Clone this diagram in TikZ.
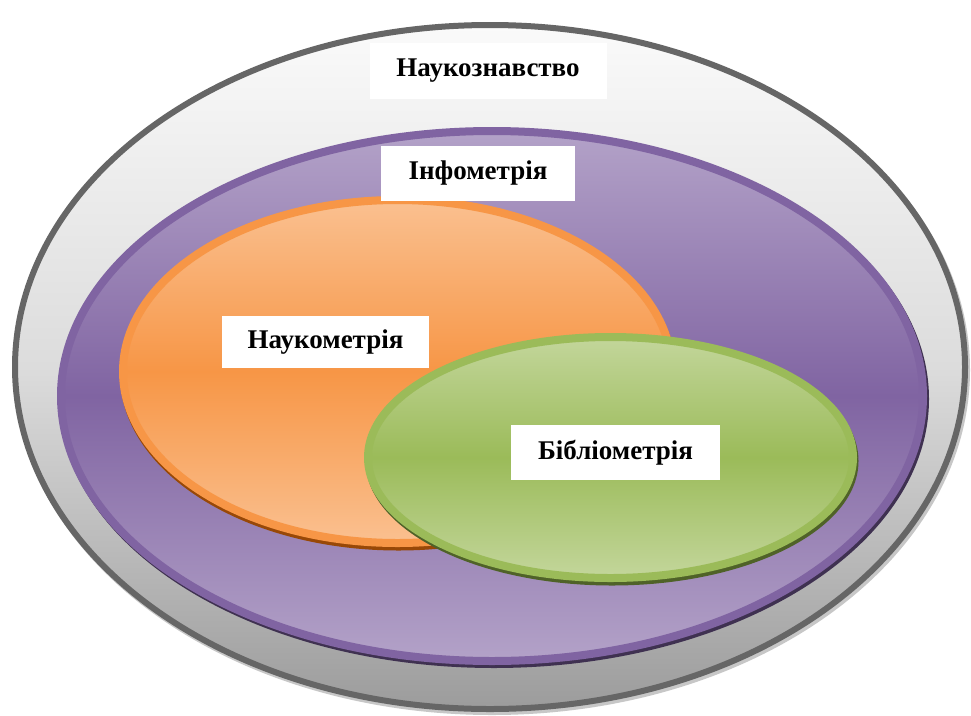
\documentclass[tikz,border=0pt]{standalone}
\usepackage{fontspec}
\setmainfont{Liberation Serif}
\usetikzlibrary{shapes.geometric}
\definecolor{grayedge}{HTML}{666666}
\definecolor{graytop}{HTML}{FAFAFA}
\definecolor{graymid}{HTML}{DCDCDC}
\definecolor{graybot}{HTML}{9C9C9C}
\definecolor{purpedge}{HTML}{8064A2}
\definecolor{purplight}{HTML}{B3A2C8}
\definecolor{purpshadow}{HTML}{3F3151}
\definecolor{orangeedge}{HTML}{F79646}
\definecolor{orangelight}{HTML}{FAC090}
\definecolor{orangeshadow}{HTML}{984807}
\definecolor{greenedge}{HTML}{9BBB59}
\definecolor{greenlight}{HTML}{C3D69B}
\definecolor{greenshadow}{HTML}{4F6228}
\begin{document}
\begin{tikzpicture}[x=1pt,y=-1pt,
  ell/.style={ellipse, inner sep=0pt, outer sep=0pt},
  lbl/.style={fill=white, inner sep=0pt, text=black,
    font=\bfseries\fontsize{27}{30}\selectfont}]
\useasboundingbox (0,0) rectangle (971,715);
\clip (0,0) rectangle (971,715);
\fill[white] (0,0) rectangle (971,715);
% outer
\node[ell, fill=black!22, minimum width=956pt, minimum height=690pt] (outershadow) at (492,370) {};
\node[ell, draw=grayedge, line width=6pt, minimum width=950pt, minimum height=684pt,
  top color=graytop, bottom color=graybot, middle color=graymid] (outer) at (490,367) {};
% purple
\node[ell, fill=purpshadow, minimum width=870pt, minimum height=538pt] (purpshadownode) at (494,399) {};
\node[ell, draw=purpedge, line width=8pt, minimum width=862pt, minimum height=530pt,
  top color=purplight, bottom color=purplight, middle color=purpedge] (purple) at (492,396) {};
% orange
\node[ell, fill=orangeshadow, minimum width=557pt, minimum height=351pt] (orangeshadownode) at (398.5,375) {};
\node[ell, draw=orangeedge, line width=8pt, minimum width=549pt, minimum height=343pt,
  top color=orangelight, bottom color=orangelight, middle color=orangeedge] (orange) at (397.5,371.5) {};
% green
\node[ell, fill=greenshadow, minimum width=493pt, minimum height=249pt] (greenshadownode) at (612,461) {};
\node[ell, draw=greenedge, line width=8pt, minimum width=485pt, minimum height=241pt,
  top color=greenlight, bottom color=greenlight, middle color=greenedge] (green) at (610.5,457.5) {};
% labels
\node[lbl, minimum width=237pt, minimum height=56pt] (l1) at (488,71) {Наукознавство};
\node[lbl, minimum width=194pt, minimum height=55pt] (l2) at (478,173.5) {Інфометрія};
\node[lbl, minimum width=207pt, minimum height=52pt] (l3) at (325.5,342) {Наукометрія};
\node[lbl, minimum width=209pt, minimum height=55pt] (l4) at (615.5,452.5) {Бібліометрія};
\end{tikzpicture}
\end{document}
